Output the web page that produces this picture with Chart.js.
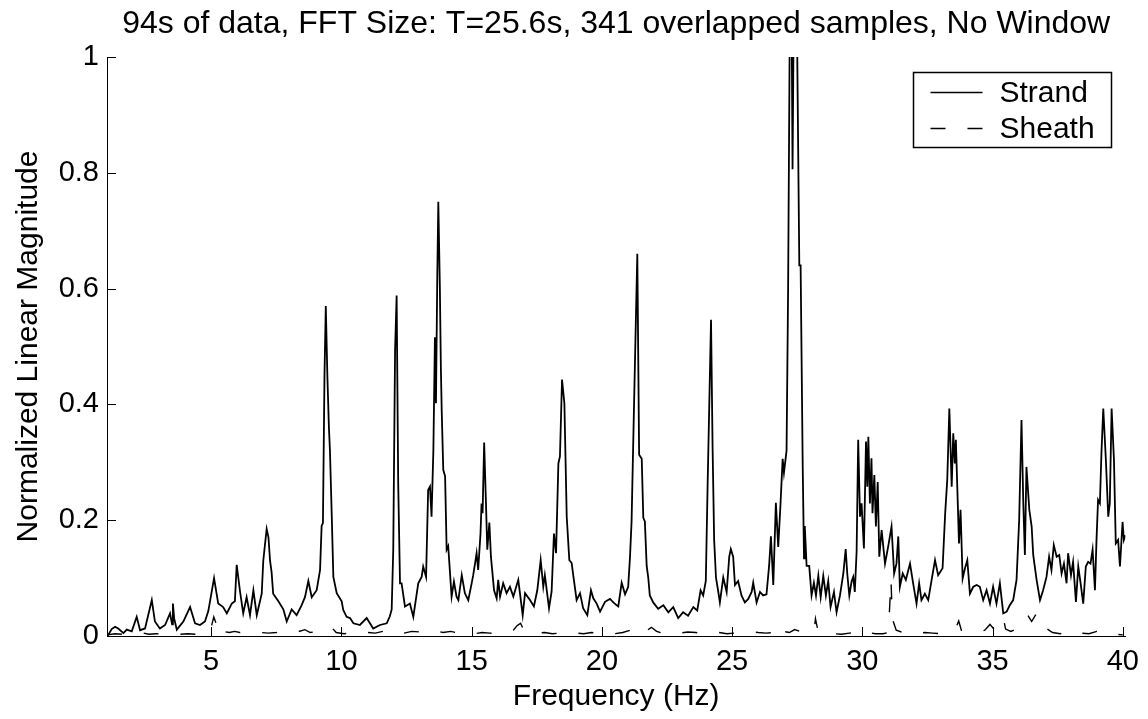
<!DOCTYPE html>
<html>
<head>
<meta charset="utf-8">
<script src="https://cdn.jsdelivr.net/npm/chart.js@4.4.1/dist/chart.umd.min.js"></script>
<style>
  html, body { margin: 0; padding: 0; background: #fff; }
  canvas { display: block; }
</style>
</head>
<body>
<canvas id="fft" width="1148" height="719"></canvas>
<script>
// values (frequency in Hz, normalized magnitude)
var strandFreq = [
  1.0, 1.05, 1.18, 1.31, 1.43, 1.63, 1.76, 1.95, 2.14, 2.27,
  2.46, 2.72, 2.84, 3.03, 3.23, 3.42, 3.50, 3.53, 3.58, 3.68,
  3.93, 4.19, 4.38, 4.57, 4.76, 4.89, 5.11, 5.27, 5.46, 5.60,
  5.79, 5.91, 5.98, 6.11, 6.23, 6.36, 6.49, 6.62, 6.75, 6.94,
  7.00, 7.07, 7.13, 7.20, 7.26, 7.32, 7.38, 7.58, 7.77, 7.90,
  8.09, 8.28, 8.47, 8.60, 8.73, 8.86, 9.05, 9.18, 9.24, 9.29,
  9.35, 9.40, 9.46, 9.52, 9.56, 9.63, 9.69, 9.82, 10.01, 10.07,
  10.20, 10.33, 10.46, 10.71, 10.97, 11.22, 11.48, 11.74, 11.86, 11.93,
  11.99, 12.06, 12.12, 12.18, 12.25, 12.31, 12.44, 12.63, 12.76, 12.95,
  13.08, 13.14, 13.25, 13.33, 13.40, 13.46, 13.53, 13.59, 13.63, 13.68,
  13.72, 13.78, 13.82, 13.85, 13.91, 13.98, 14.04, 14.10, 14.23, 14.32,
  14.42, 14.49, 14.62, 14.74, 14.87, 15.00, 15.06, 15.15, 15.19, 15.25,
  15.34, 15.38, 15.42, 15.48, 15.55, 15.60, 15.68, 15.74, 15.86, 15.96,
  16.02, 16.09, 16.21, 16.34, 16.47, 16.60, 16.79, 16.96, 17.05, 17.24,
  17.39, 17.52, 17.65, 17.75, 17.81, 17.97, 18.07, 18.16, 18.24, 18.33,
  18.39, 18.47, 18.56, 18.65, 18.75, 18.84, 18.90, 19.03, 19.16, 19.28,
  19.44, 19.58, 19.67, 19.80, 19.93, 20.12, 20.31, 20.44, 20.57, 20.63,
  20.76, 20.89, 21.01, 21.08, 21.14, 21.23, 21.36, 21.43, 21.53, 21.59,
  21.65, 21.72, 21.78, 21.84, 21.97, 22.16, 22.36, 22.55, 22.74, 22.93,
  23.12, 23.31, 23.51, 23.66, 23.79, 23.89, 23.99, 24.06, 24.19, 24.25,
  24.31, 24.38, 24.47, 24.53, 24.66, 24.79, 24.89, 24.95, 25.04, 25.11,
  25.23, 25.36, 25.49, 25.62, 25.75, 25.81, 25.94, 26.07, 26.19, 26.32,
  26.42, 26.49, 26.58, 26.68, 26.77, 26.86, 26.94, 26.99, 27.09, 27.15,
  27.22, 27.28, 27.32, 27.37, 27.48, 27.58, 27.63, 27.71, 27.76, 27.79,
  27.86, 27.96, 28.05, 28.14, 28.22, 28.31, 28.40, 28.50, 28.60, 28.69,
  28.78, 28.91, 29.01, 29.14, 29.27, 29.36, 29.42, 29.50, 29.59, 29.65,
  29.71, 29.78, 29.84, 29.91, 29.97, 30.06, 30.14, 30.19, 30.23, 30.29,
  30.35, 30.39, 30.46, 30.52, 30.59, 30.65, 30.74, 30.87, 30.99, 31.12,
  31.22, 31.31, 31.38, 31.44, 31.55, 31.67, 31.83, 31.95, 32.08, 32.18,
  32.27, 32.40, 32.53, 32.66, 32.79, 32.91, 33.08, 33.18, 33.26, 33.34,
  33.43, 33.49, 33.55, 33.59, 33.71, 33.77, 33.85, 33.94, 34.03, 34.13,
  34.26, 34.39, 34.51, 34.64, 34.77, 34.90, 35.02, 35.15, 35.28, 35.41,
  35.54, 35.66, 35.79, 35.92, 36.02, 36.11, 36.18, 36.24, 36.30, 36.41,
  36.50, 36.56, 36.69, 36.82, 36.94, 37.07, 37.17, 37.26, 37.35, 37.46,
  37.56, 37.65, 37.74, 37.84, 37.90, 38.01, 38.09, 38.20, 38.29, 38.38,
  38.48, 38.58, 38.67, 38.76, 38.84, 38.93, 38.99, 39.05, 39.12, 39.18,
  39.25, 39.35, 39.44, 39.50, 39.57, 39.66, 39.73, 39.82, 39.89, 39.99,
  40.04, 40.10
];
var strandMag = [
  .004, .002, .012, .016, .013, .005, .011, .008, .033, .010,
  .013, .062, .025, .013, .019, .039, .020, .056, .030, .011,
  .025, .050, .022, .019, .025, .043, .100, .056, .050, .039,
  .056, .060, .123, .076, .039, .067, .036, .079, .036, .073,
  .130, .160, .185, .170, .130, .110, .073, .060, .046, .025,
  .046, .036, .053, .067, .095, .067, .079, .114, .190, .195,
  .450, .570, .450, .360, .320, .206, .102, .074, .060, .045,
  .033, .031, .022, .019, .031, .013, .019, .022, .034, .046,
  .149, .494, .588, .264, .091, .091, .051, .056, .033, .091,
  .102, .120, .102, .252, .258, .206, .320, .516, .402, .620,
  .750, .600, .459, .390, .287, .276, .149, .155, .068, .094,
  .068, .062, .105, .074, .062, .091, .105, .131, .143, .114,
  .177, .229, .212, .334, .229, .149, .196, .137, .079, .065,
  .097, .068, .091, .074, .085, .068, .097, .036, .074, .062,
  .051, .079, .131, .085, .105, .048, .077, .177, .143, .298,
  .310, .443, .402, .206, .131, .126, .105, .062, .074, .048,
  .036, .079, .065, .056, .042, .059, .064, .058, .053, .051,
  .092, .072, .085, .137, .198, .390, .660, .313, .306, .204,
  .198, .121, .101, .070, .058, .047, .053, .041, .050, .031,
  .041, .035, .050, .044, .079, .070, .095, .262, .546, .326,
  .166, .101, .076, .058, .101, .076, .137, .150, .137, .088,
  .095, .070, .058, .064, .076, .092, .058, .076, .070, .072,
  .121, .172, .088, .230, .154, .230, .306, .282, .320, .600,
  1.10, 1.10, .806, 1.10, 1.10, .640, .640, .294, .134, .190,
  .121, .121, .070, .092, .070, .104, .067, .104, .070, .095,
  .050, .076, .041, .070, .108, .150, .108, .070, .095, .102,
  .076, .146, .339, .206, .229, .151, .336, .258, .344, .229,
  .307, .212, .278, .189, .266, .137, .183, .125, .154, .189,
  .108, .125, .172, .085, .108, .097, .125, .091, .056, .091,
  .062, .073, .062, .097, .131, .105, .117, .212, .270, .393,
  .258, .350, .298, .339, .160, .218, .099, .117, .131, .073,
  .085, .088, .085, .062, .079, .056, .085, .056, .091, .039,
  .042, .053, .062, .097, .200, .373, .229, .140, .292, .218,
  .189, .140, .097, .062, .079, .102, .137, .114, .157, .137,
  .140, .108, .125, .091, .143, .105, .128, .059, .120, .091,
  .056, .120, .128, .125, .149, .079, .166, .235, .229, .317,
  .393, .304, .206, .229, .393, .304, .160, .166, .120, .197,
  .166, .174
];

var sheathFreq = [
  1.0, 1.3, 1.6, 1.9, 2.1, 2.4, 2.6, 2.9, 3.2, 3.5,
  3.8, 4.1, 4.4, 4.7, 4.95, 5.1, 5.2, 5.3, 5.45, 5.7,
  5.9, 6.1, 6.3, 6.6, 6.9, 7.2, 7.5, 7.8, 8.0, 8.3,
  8.6, 8.8, 9.1, 9.4, 9.6, 9.8, 10.1, 10.4, 10.7, 11.0,
  11.3, 11.6, 11.9, 12.1, 12.4, 12.7, 13.0, 13.3, 13.6, 13.9,
  14.2, 14.5, 14.8, 15.1, 15.4, 15.7, 16.0, 16.3, 16.6, 16.75,
  16.88, 17.0, 17.2, 17.5, 17.8, 18.1, 18.4, 18.7, 19.0, 19.3,
  19.6, 19.9, 20.2, 20.5, 20.8, 21.1, 21.3, 21.6, 21.9, 22.1,
  22.4, 22.7, 23.0, 23.3, 23.6, 23.9, 24.2, 24.5, 24.8, 25.1,
  25.4, 25.7, 26.0, 26.3, 26.6, 26.8, 26.95, 27.2, 27.4, 27.6,
  27.9, 28.15, 28.2, 28.3, 28.6, 28.9, 29.2, 29.5, 29.8, 30.0,
  30.2, 30.5, 30.8, 31.0, 31.1, 31.15, 31.3, 31.5, 31.8, 32.1,
  32.4, 32.7, 33.0, 33.3, 33.6, 33.7, 33.8, 34.1, 34.4, 34.7,
  34.9, 35.05, 35.2, 35.4, 35.5, 35.7, 36.0, 36.2, 36.35, 36.5,
  36.7, 36.85, 37.0, 37.3, 37.6, 37.9, 38.1, 38.4, 38.7, 39.0,
  39.2, 39.5, 39.7, 40.0
];
var sheathMag = [
  .002, .004, .003, .002, .004, .005, .003, .004, .003, .005,
  .003, .004, .003, .004, .006, .033, .020, .028, .008, .006,
  .008, .006, .007, .005, .006, .005, .006, .008, .006, .007,
  .011, .006, .008, .012, .016, .006, .004, .005, .004, .006,
  .005, .008, .011, .007, .005, .008, .007, .011, .009, .006,
  .008, .005, .007, .004, .006, .005, .004, .006, .010, .018,
  .022, .010, .004, .005, .006, .004, .005, .003, .005, .004,
  .006, .004, .005, .004, .006, .010, .015, .005, .015, .008,
  .004, .006, .005, .007, .006, .004, .005, .006, .004, .005,
  .006, .008, .006, .005, .006, .019, .008, .006, .011, .008,
  .005, .010, .030, .008, .003, .004, .003, .005, .006, .010,
  .006, .004, .004, .006, .097, .030, .010, .007, .008, .004,
  .006, .005, .004, .006, .015, .026, .010, .008, .006, .010,
  .020, .012, .025, .033, .012, .008, .014, .020, .036, .025,
  .040, .030, .015, .006, .004, .008, .010, .005, .004, .008,
  .006, .007, .003, .002
];

var seriesNames = ['Strand', 'Sheath'];
var xTicks = [5, 10, 15, 20, 25, 30, 35, 40];
var yTicks = [0, 0.2, 0.4, 0.6, 0.8, 1];
var titleText = '94s of data, FFT Size: T=25.6s, 341 overlapped samples, No Window';

function toPoints(xs, ys) {
    if (xs.length !== ys.length) console.error('length mismatch', xs.length, ys.length);
    return xs.map(function (x, i) { return {x: x, y: ys[i]}; });
}

var FONT = 'Liberation Sans, Arial, Helvetica, sans-serif';

// matlab style extras: inward ticks, centred title and boxed legend
var matlabBits = {
    id: 'matlabBits',
    afterDraw: function (chart) {
        var ctx = chart.ctx, a = chart.chartArea;
        var sx = chart.scales.x, sy = chart.scales.y;
        ctx.save();
        ctx.strokeStyle = '#000';
        ctx.lineWidth = 1;
        ctx.beginPath();
        sx.ticks.forEach(function (t) {
            var px = Math.round(sx.getPixelForValue(t.value)) + 0.5;
            ctx.moveTo(px, a.bottom);
            ctx.lineTo(px, a.bottom - 9);
        });
        sy.ticks.forEach(function (t) {
            var py = Math.round(sy.getPixelForValue(t.value)) + 0.5;
            ctx.moveTo(a.left, py);
            ctx.lineTo(a.left + 9, py);
        });
        ctx.stroke();

        // title
        ctx.fillStyle = '#000';
        ctx.font = '32px ' + FONT;
        ctx.textAlign = 'center';
        ctx.textBaseline = 'middle';
        ctx.fillText(titleText, (a.left + a.right) / 2, 24);

        // legend
        var bx = 913.5, by = 72.5, bw = 198, bh = 75;
        ctx.fillStyle = '#fff';
        ctx.fillRect(bx, by, bw, bh);
        ctx.lineWidth = 1.5;
        ctx.strokeRect(bx, by, bw, bh);
        var rows = [by + 20, by + 56];
        ctx.lineWidth = 1.4;
        chart.data.datasets.forEach(function (ds, i) {
            ctx.setLineDash(ds.borderDash || []);
            ctx.beginPath();
            ctx.moveTo(bx + 17, rows[i]);
            ctx.lineTo(bx + 69, rows[i]);
            ctx.stroke();
        });
        ctx.setLineDash([]);
        ctx.fillStyle = '#000';
        ctx.font = '30px ' + FONT;
        ctx.textAlign = 'left';
        ctx.fillText(seriesNames[0], bx + 86, rows[0] + 1);
        ctx.fillText(seriesNames[1], bx + 86, rows[1] + 1);
        ctx.restore();
    }
};

new Chart(document.getElementById('fft'), {
    type: 'line',
    data: {
        datasets: [{
            label: seriesNames[0],
            data: toPoints(strandFreq, strandMag),
            borderColor: '#000',
            borderWidth: 1.8,
            pointRadius: 0,
            tension: 0
        }, {
            label: seriesNames[1],
            data: toPoints(sheathFreq, sheathMag),
            borderColor: '#000',
            borderWidth: 1.4,
            borderDash: [15, 22],
            pointRadius: 0,
            tension: 0
        }]
    },
    options: {
        responsive: false,
        animation: false,
        devicePixelRatio: 1,
        layout: {padding: {top: 57, right: 22, left: 0, bottom: 0}},
        plugins: {
            legend: {display: false},
            title: {display: false},
            tooltip: {enabled: false}
        },
        scales: {
            x: {
                type: 'linear',
                min: 1,
                max: 40.1,
                afterBuildTicks: function (s) { s.ticks = xTicks.map(function (v) { return {value: v}; }); },
                afterFit: function (s) { s.height = 83; },
                grid: {display: false, drawTicks: false},
                border: {display: true, color: '#000', width: 1},
                ticks: {
                    color: '#000',
                    font: {family: FONT, size: 29},
                    padding: 9,
                    maxRotation: 0,
                    autoSkip: false
                },
                title: {
                    display: true,
                    text: 'Frequency (Hz)',
                    color: '#000',
                    font: {family: FONT, size: 30},
                    padding: {top: 0, bottom: 4}
                }
            },
            y: {
                min: 0,
                max: 1,
                afterBuildTicks: function (s) { s.ticks = yTicks.map(function (v) { return {value: v}; }); },
                afterFit: function (s) { s.width = 107; },
                grid: {display: false, drawTicks: false},
                border: {display: true, color: '#000', width: 1},
                ticks: {
                    color: '#000',
                    font: {family: FONT, size: 29},
                    padding: 8,
                    callback: function (v) { return String(v); }
                },
                title: {
                    display: true,
                    text: 'Normalized Linear Magnitude',
                    color: '#000',
                    font: {family: FONT, size: 30},
                    padding: {top: 11, bottom: 0}
                }
            }
        }
    },
    plugins: [matlabBits]
});
</script>
</body>
</html>
